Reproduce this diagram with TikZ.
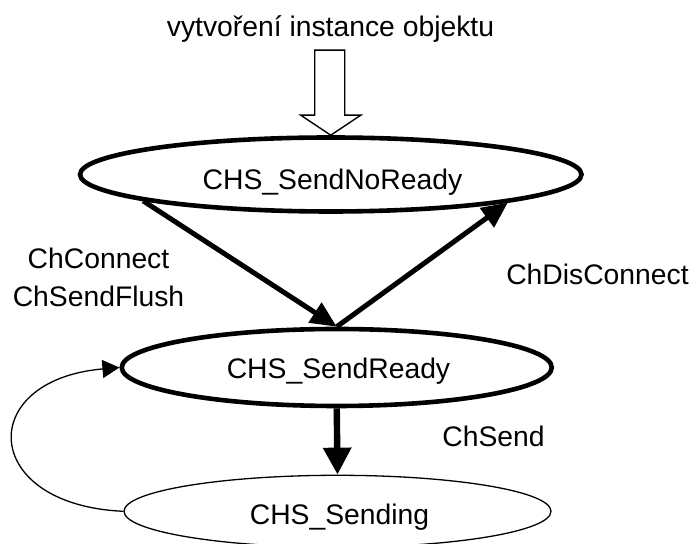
\documentclass[tikz,border=0pt]{standalone}
\usepackage{fontspec}
\setmainfont{Liberation Sans}
\usetikzlibrary{arrows.meta,shapes.geometric,calc}

\begin{document}
\begin{tikzpicture}[x=0.5pt,y=-0.5pt,
  every node/.style={font=\fontsize{14.15pt}{19pt}\selectfont},
  state/.style={draw, ellipse, inner sep=0pt},
  bold state/.style={state, line width=2.3pt},
  thin state/.style={state, line width=0.65pt},
  txt/.style={anchor=base, inner sep=0pt, outer sep=0pt},
  trans/.style={line width=2.5pt, -{Triangle[length=13pt,width=11.5pt]}},
  strong trans/.style={line width=3.2pt, -{Triangle[length=13.5pt,width=13.5pt]}},
  back/.style={line width=0.65pt, -{Triangle[length=8.5pt,width=9pt]}},
  hollow/.style={draw, line width=0.7pt, fill=white, line join=miter}
]
\useasboundingbox (0,0) rectangle (692,544);

% states
\node[bold state, minimum width=250.75pt, minimum height=37pt] (nr) at (330.75,174.5) {};
\node[txt] (nrt) at (332.5,190) {CHS\_SendNoReady};
\node[bold state, minimum width=215pt, minimum height=38.5pt] (rd) at (336.75,367.5) {};
\node[txt] (rdt) at (338.5,379) {CHS\_SendReady};
\node[thin state, minimum width=213.5pt, minimum height=36pt] (sg) at (337.5,511.3) {};
\node[txt] (sgt) at (339.5,525) {CHS\_Sending};

% object creation: hollow arrow into the first state
\node[txt] (create) at (330.5,37) {vytvoření instance objektu};
\coordinate (tip) at (nr.north);
\draw[hollow] ($(tip)+(-16,-85)$) -- ($(tip)+(14,-85)$) -- ($(tip)+(14,-20)$)
  -- ($(tip)+(30,-20)$) -- (tip) -- ($(tip)+(-30,-20)$) -- ($(tip)+(-16,-20)$) -- cycle;

% transitions
\draw[trans] (nr.188.5) -- (rd.north);
\draw[trans] (rd.north) -- (nr.351.5);
\draw[strong trans] (rd.south) -- (sg.north);
\draw[back] (sg.west) .. controls (-20,505) and (-25,380) .. (rd.west);

% transition labels (base anchor sits on the last line)
\node[txt, align=center] (lconn) at (98.5,307) {ChConnect\\ChSendFlush};
\node[txt] (ldis) at (597.5,285) {ChDisConnect};
\node[txt] (lsend) at (493.5,447) {ChSend};
\end{tikzpicture}
\end{document}
